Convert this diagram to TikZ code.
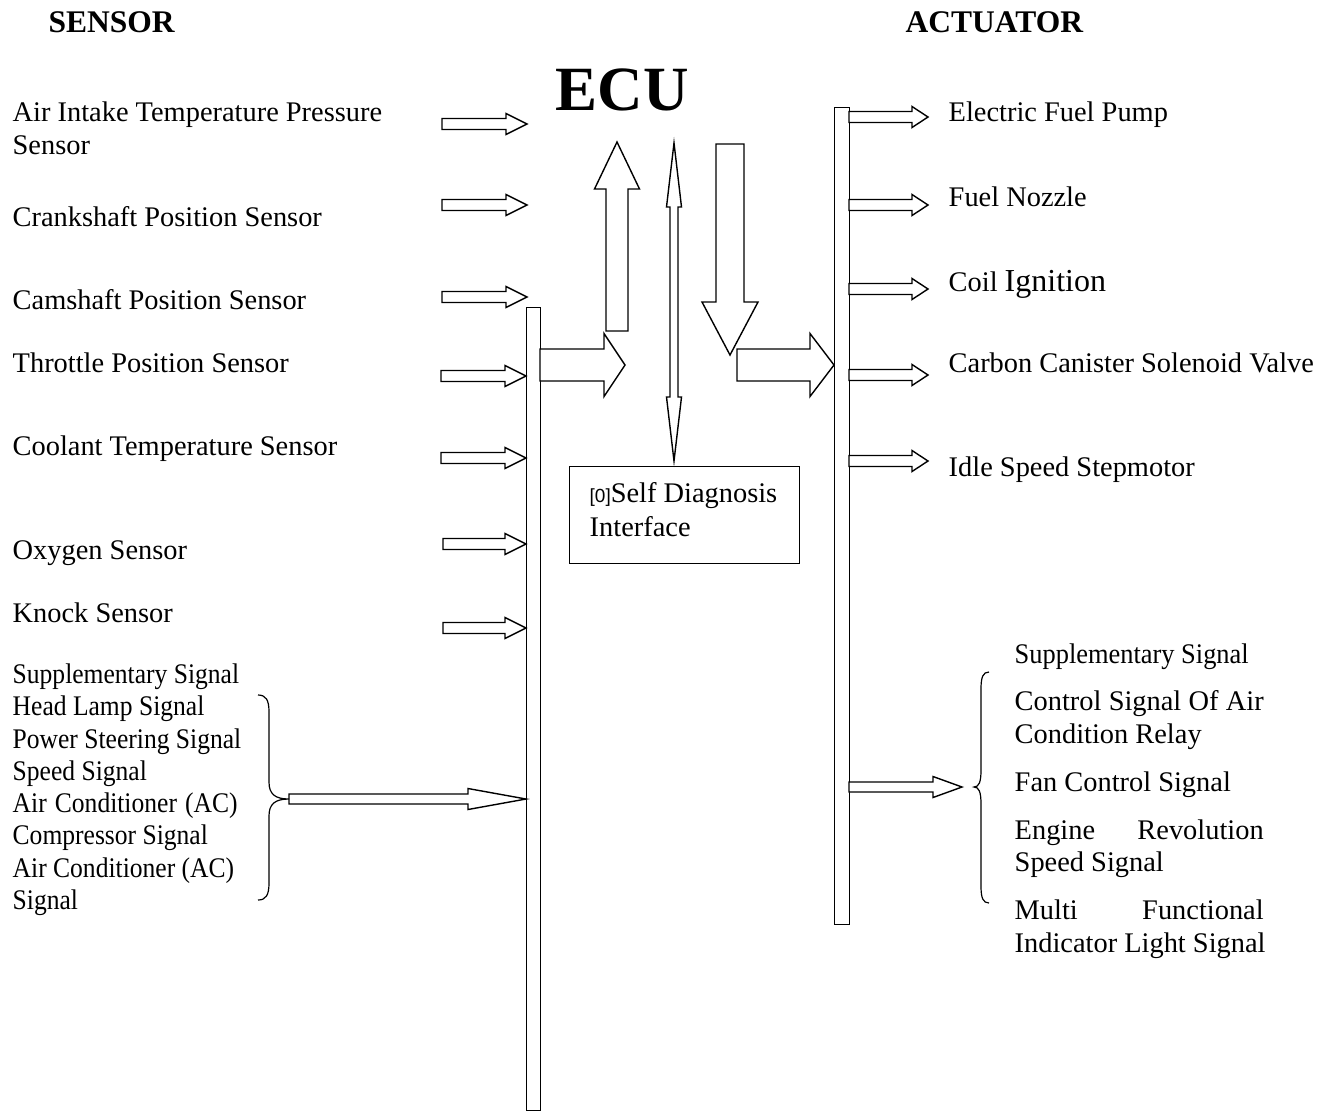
\documentclass[tikz,border=0pt]{standalone}
\usepackage{fontspec}
\setmainfont{Liberation Serif}
\newfontfamily\condA[FakeStretch=0.9]{Liberation Serif}
\newfontfamily\condB[FakeStretch=0.93]{Liberation Serif}
\newfontfamily\arialf{Liberation Sans}
\newcommand\hArr[6]{\draw[blk] (#1,#3-#4) -- (#2-#6,#3-#4) -- (#2-#6,#3-#5) -- (#2,#3) -- (#2-#6,#3+#5) -- (#2-#6,#3+#4) -- (#1,#3+#4) -- cycle;}
\begin{document}
\begin{tikzpicture}[x=1pt,y=-1pt,line width=1.4pt,
  txt/.style={anchor=base west,inner sep=0pt,font=\fontsize{28.4}{33}\selectfont},
  ctxt/.style={txt,font=\fontsize{28.4}{33}\selectfont\condA},
  rtxt/.style={txt,font=\fontsize{28.4}{33}\selectfont\condB},
  head/.style={anchor=base west,inner sep=0pt,font=\fontsize{31.5}{33}\selectfont\bfseries},
  blk/.style={draw=black,fill=white,line join=miter},
  bus/.style={draw=black,fill=white,inner sep=0pt,anchor=north west,minimum width=14pt}]
\useasboundingbox (0,0) rectangle (1329,1112);

% headings
\node[head] (hs) at (48,32) {SENSOR};
\node[head] (ha) at (905,32) {ACTUATOR};
\node[anchor=base west,inner sep=0pt,font=\fontsize{63}{66}\selectfont\bfseries] (ecu) at (555,110) {ECU};

% left sensor labels
\node[txt] (s1) at (12,121) {Air Intake Temperature Pressure};
\node[txt] (s1b) at (12,154) {Sensor};
\node[txt] (s2) at (12,226) {Crankshaft Position Sensor};
\node[txt] (s3) at (12,309) {Camshaft Position Sensor};
\node[txt] (s4) at (12,372) {Throttle Position Sensor};
\node[txt] (s5) at (12,455) {Coolant Temperature Sensor};
\node[txt] (s6) at (12,559) {Oxygen Sensor};
\node[txt] (s7) at (12,622) {Knock Sensor};

% left supplementary list
\node[ctxt] (l1) at (12,683) {Supplementary Signal};
\node[ctxt] (l2) at (12,715) {Head Lamp Signal};
\node[ctxt] (l3) at (12,748) {Power Steering Signal};
\node[ctxt] (l4) at (12,780) {Speed Signal};
\node[ctxt] (l5) at (12,812) {\makebox[225pt][s]{Air Conditioner (AC)}};
\node[ctxt] (l6) at (12,844) {Compressor Signal};
\node[ctxt] (l7) at (12,877) {Air Conditioner (AC)};
\node[ctxt] (l8) at (12,909) {Signal};

% buses
\node[bus,minimum height=803pt] (lbus) at (526,307) {};
\node[bus,minimum height=817pt,minimum width=15pt] (rbus) at (834,107) {};

% left small arrows
\hArr{442}{527}{124}{5.5}{10.5}{21}
\hArr{442}{527}{205}{5.5}{10.5}{21}
\hArr{442}{527}{297}{5.5}{10.5}{21}
\hArr{441}{526}{376}{5.5}{10.5}{21}
\hArr{441}{526}{458}{5.5}{10.5}{21}
\hArr{443}{526}{544}{5.5}{10.5}{21}
\hArr{443}{526}{628}{5.5}{10.5}{21}
\hArr{289}{526}{799}{5}{10.5}{58}

% big horizontal arrows
\hArr{540}{625}{365}{16}{31.5}{21}
\hArr{737}{834}{365}{16}{31.5}{24}

% vertical arrows
\draw[blk] (606,331) -- (606,189) -- (594.5,189) -- (617,142) -- (639.5,189) -- (628,189) -- (628,331) -- cycle;
\draw[blk] (716,144) -- (716,302) -- (702,302) -- (730,355) -- (758,302) -- (744,302) -- (744,144) -- cycle;
\draw[blk] (670,207) -- (666.5,207) -- (674,143) -- (681.5,207) -- (678,207) -- (678,397) -- (681.5,397) -- (674,461) -- (666.5,397) -- (670,397) -- cycle;

% self diagnosis box
\node[draw,inner sep=0pt,anchor=north west,minimum width=230pt,minimum height=97pt] (sdi) at (569,466) {};
\node[txt] (sdt1) at (589,502) {{\arialf\fontsize{19}{20}\selectfont[0]}Self Diagnosis};
\node[txt] (sdt2) at (589,536) {Interface};

% right arrows
\hArr{849}{928}{117}{5.5}{10.5}{16}
\hArr{849}{928}{205}{5.5}{10.5}{16}
\hArr{849}{928}{289}{5.5}{10.5}{16}
\hArr{849}{928}{375}{5.5}{10.5}{16}
\hArr{849}{928}{461}{5.5}{10.5}{16}
\hArr{849}{962}{787}{5}{10.5}{29}

% right labels
\node[txt] (a1) at (948,121) {Electric Fuel Pump};
\node[txt] (a2) at (948,206) {Fuel Nozzle};
\node[txt] (a3) at (948,291) {Coil {\fontsize{32}{33}\selectfont Ignition}};
\node[txt] (a4) at (948,372) {Carbon Canister Solenoid Valve};
\node[txt] (a5) at (948,476) {Idle Speed Stepmotor};

% right lower list
\node[rtxt] (r1) at (1014,663) {Supplementary Signal};
\node[txt] (r2) at (1014,710) {\makebox[249pt][s]{Control Signal Of Air}};
\node[txt] (r3) at (1014,743) {Condition Relay};
\node[txt] (r4) at (1014,791) {Fan Control Signal};
\node[txt] (r5) at (1014,839) {\makebox[249pt][s]{Engine Revolution}};
\node[txt] (r6) at (1014,871) {Speed Signal};
\node[txt] (r7) at (1014,919) {\makebox[249pt][s]{Multi Functional}};
\node[txt] (r8) at (1014,952) {Indicator Light Signal};

% braces
\draw[line width=1.2pt] (258,695) .. controls (266,695) and (269,700) .. (269,712) -- (269,782) .. controls (269,794) and (275,799) .. (289,799) .. controls (275,799) and (269,804) .. (269,816) -- (269,883) .. controls (269,895) and (266,900) .. (258,900);
\draw[line width=1.2pt] (989,672) .. controls (983,672) and (981,677) .. (981,689) -- (981,770) .. controls (981,782) and (979,787) .. (974,787) .. controls (979,787) and (981,792) .. (981,804) -- (981,886) .. controls (981,898) and (983,903) .. (989,903);
\end{tikzpicture}
\end{document}
